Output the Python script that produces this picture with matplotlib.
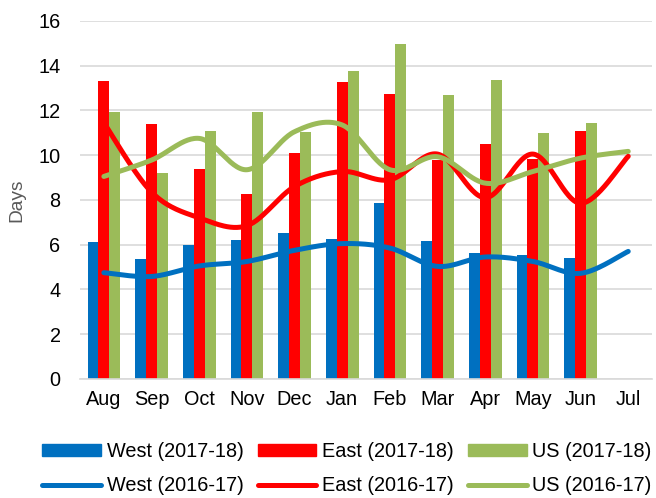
import matplotlib.pyplot as plt
import numpy as np
from matplotlib.patches import Patch
from matplotlib.lines import Line2D

plt.rcParams['font.family'] = ['Liberation Sans', 'DejaVu Sans']

months = ['Aug', 'Sep', 'Oct', 'Nov', 'Dec', 'Jan', 'Feb', 'Mar', 'Apr', 'May', 'Jun', 'Jul']

# 2017-18 (bars, Jul not yet available)
west_1718 = [6.1, 5.35, 5.97, 6.22, 6.52, 6.25, 7.85, 6.18, 5.62, 5.55, 5.42]
east_1718 = [13.3, 11.4, 9.38, 8.25, 10.08, 13.25, 12.75, 9.8, 10.5, 9.85, 11.1]
us_1718 = [11.92, 9.2, 11.1, 11.92, 11.05, 13.78, 14.97, 12.68, 13.38, 11.0, 11.45]

# 2016-17 (smoothed lines)
west_1617 = [4.75, 4.58, 5.05, 5.25, 5.75, 6.05, 5.85, 5.03, 5.45, 5.25, 4.72, 5.7]
east_1617 = [11.45, 8.35, 7.2, 6.85, 8.6, 9.27, 8.9, 10.05, 8.1, 10.05, 7.85, 9.95]
us_1617 = [9.05, 9.78, 10.75, 9.35, 11.05, 11.35, 9.35, 9.93, 8.75, 9.27, 9.87, 10.17]

BLUE = '#0070C0'
RED = '#FF0000'
GREEN = '#9BBB59'
FS = 14.3


def smooth(xs, ys, n=30):
    # Catmull-Rom style smoothing like Excel's "smoothed line"
    xs = np.asarray(xs, float)
    ys = np.asarray(ys, float)
    px = np.concatenate([[xs[0]], xs, [xs[-1]]])
    py = np.concatenate([[ys[0]], ys, [ys[-1]]])
    outx, outy = [], []
    t = np.linspace(0, 1, n)
    for i in range(1, len(px) - 2):
        p0, p1, p2, p3 = px[i - 1], px[i], px[i + 1], px[i + 2]
        q0, q1, q2, q3 = py[i - 1], py[i], py[i + 1], py[i + 2]
        # cubic bezier control points
        bx = [p1, p1 + (p2 - p0) / 6, p2 - (p3 - p1) / 6, p2]
        by = [q1, q1 + (q2 - q0) / 6, q2 - (q3 - q1) / 6, q2]
        cx = ((1 - t) ** 3 * bx[0] + 3 * (1 - t) ** 2 * t * bx[1]
              + 3 * (1 - t) * t ** 2 * bx[2] + t ** 3 * bx[3])
        cy = ((1 - t) ** 3 * by[0] + 3 * (1 - t) ** 2 * t * by[1]
              + 3 * (1 - t) * t ** 2 * by[2] + t ** 3 * by[3])
        outx.extend(cx)
        outy.extend(cy)
    return np.array(outx), np.array(outy)


fig = plt.figure(figsize=(6.56, 4.98), dpi=100)
ax = fig.add_axes([0.122, 0.239, 0.872, 0.719])

x = np.arange(len(months))
xb = np.arange(len(west_1718))
w = 0.228

ax.bar(xb - w, west_1718, w, color=BLUE, zorder=2)
ax.bar(xb, east_1718, w, color=RED, zorder=2)
ax.bar(xb + w, us_1718, w, color=GREEN, zorder=2)

for ys, c in [(west_1617, BLUE), (east_1617, RED), (us_1617, GREEN)]:
    sx, sy = smooth(x, ys)
    ax.plot(sx, sy, color=c, lw=3.6, solid_capstyle='round', zorder=3)

ax.set_xlim(-0.5, len(months) - 0.5)
ax.set_ylim(0, 16)
ax.set_yticks(range(0, 17, 2))
ax.set_xticks(x)
ax.set_xticklabels(months)
ax.tick_params(axis='both', length=0, labelsize=FS, colors='black')
ax.tick_params(axis='x', pad=8)
ax.tick_params(axis='y', pad=14)
ax.yaxis.grid(True, color='#D9D9D9', lw=1.2)
ax.set_axisbelow(True)
for s in ['top', 'right', 'left']:
    ax.spines[s].set_visible(False)
ax.spines['bottom'].set_color('#D9D9D9')
ax.spines['bottom'].set_linewidth(1.2)
ax.set_ylabel('Days', fontsize=FS - 0.5, color='#595959', labelpad=9)

handles = [
    Patch(color=BLUE), Line2D([], [], color=BLUE, lw=3.6, solid_capstyle='round'),
    Patch(color=RED), Line2D([], [], color=RED, lw=3.6, solid_capstyle='round'),
    Patch(color=GREEN), Line2D([], [], color=GREEN, lw=3.6, solid_capstyle='round'),
]
labels = ['West (2017-18)', 'West (2016-17)', 'East (2017-18)', 'East (2016-17)',
          'US (2017-18)', 'US (2016-17)']
fig.legend(handles, labels, ncol=3, loc='lower center', bbox_to_anchor=(0.529, -0.03),
           frameon=False, fontsize=FS, handlelength=2.95, handleheight=0.5,
           handletextpad=0.28, columnspacing=0.72, labelspacing=0.75)

fig.savefig('out.png', dpi=100)
